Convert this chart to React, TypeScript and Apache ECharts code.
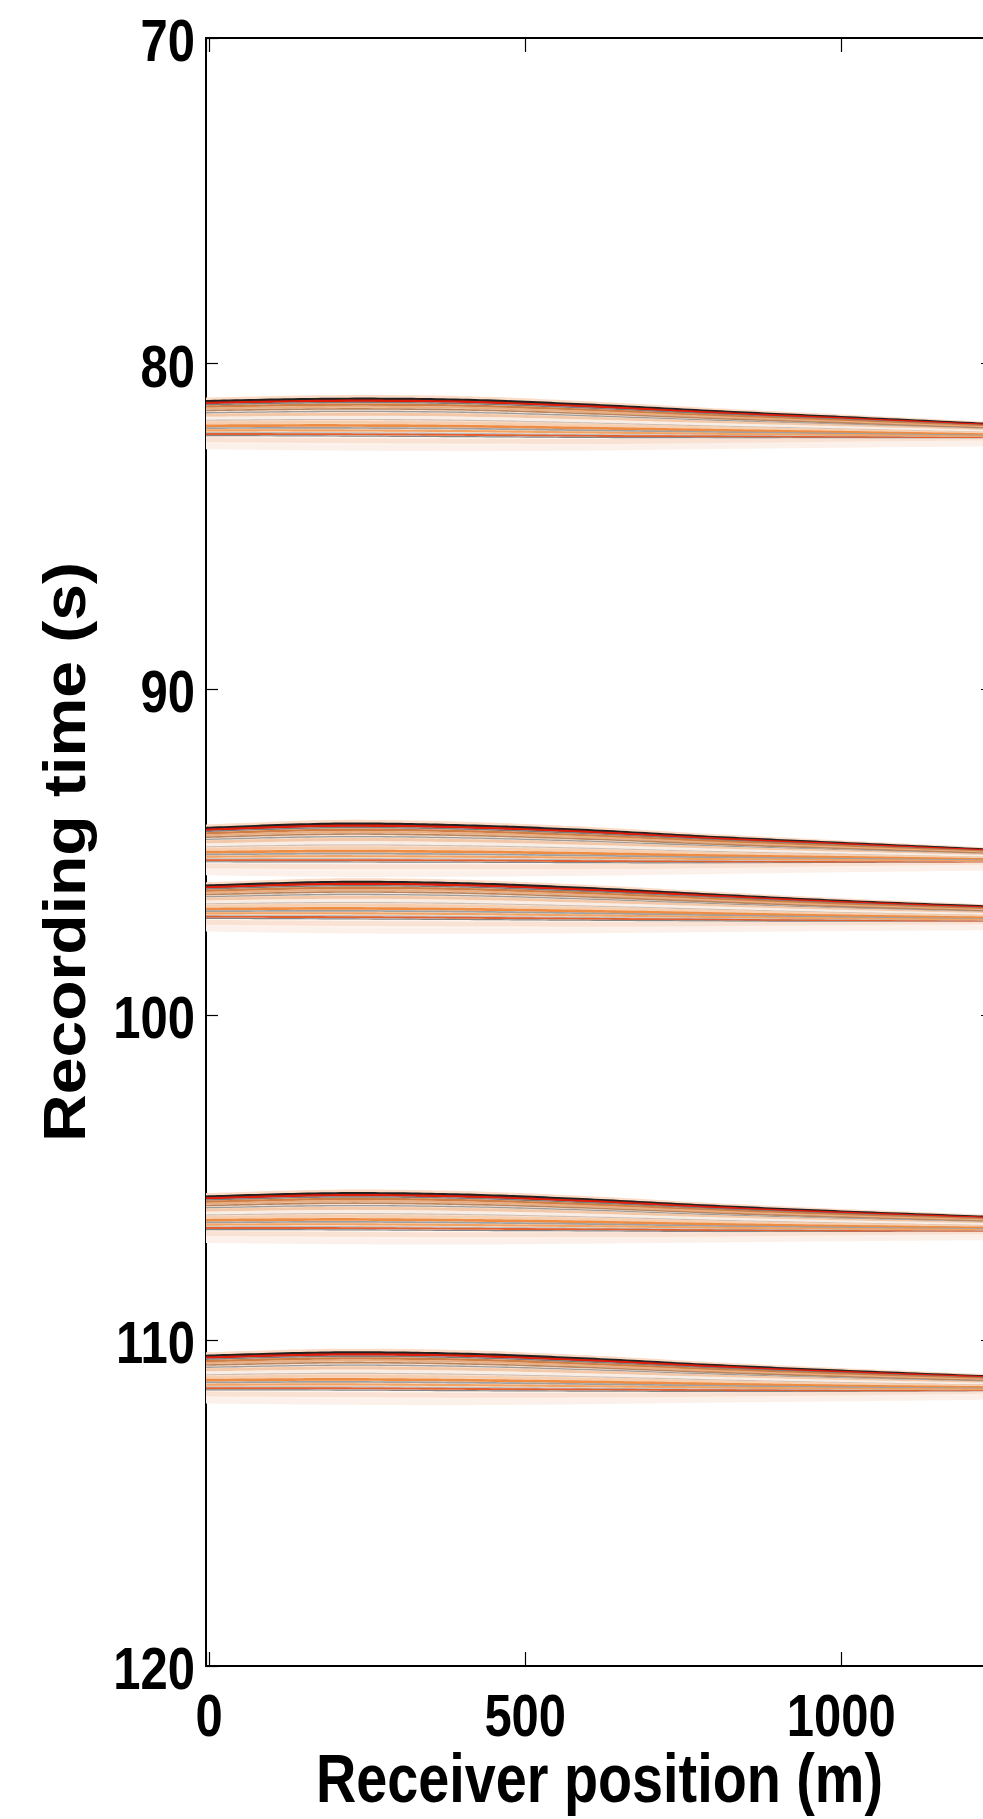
import React, { useEffect, useRef } from "react";
import * as echarts from "echarts";

// ---------- data ----------
const receiverPositions = [-5, 200, 400, 600, 800, 1000, 1240]; // m
const xTickValues = [0, 500, 1000];
const yTickValues = [70, 80, 90, 100, 110, 120];
const xRange = [-5, 1240];

// upper edge (first arrival, dark/red line) of each arrival band, seconds
const event1Top = [81.16, 81.09, 81.12, 81.27, 81.47, 81.65, 81.87];
const event2Top = [94.27, 94.14, 94.19, 94.34, 94.55, 94.73, 94.94];
const event3Top = [96.04, 95.93, 95.97, 96.12, 96.32, 96.51, 96.69];
const event4Top = [105.59, 105.49, 105.53, 105.68, 105.88, 106.05, 106.22];
const event5Top = [110.48, 110.38, 110.42, 110.57, 110.77, 110.94, 111.12];

// lower edge (last clear coda line) of each arrival band, seconds
const event1Base = [82.16, 82.17, 82.19, 82.22, 82.24, 82.26, 82.29];
const event2Base = [95.25, 95.25, 95.26, 95.28, 95.3, 95.31, 95.33];
const event3Base = [96.99, 97.0, 97.02, 97.05, 97.08, 97.11, 97.14];
const event4Base = [106.55, 106.55, 106.57, 106.59, 106.62, 106.64, 106.66];
const event5Base = [111.47, 111.47, 111.49, 111.51, 111.53, 111.55, 111.56];

const events = [
  { name: "Arrival 1", top: event1Top, base: event1Base },
  { name: "Arrival 2", top: event2Top, base: event2Base },
  { name: "Arrival 3", top: event3Top, base: event3Base },
  { name: "Arrival 4", top: event4Top, base: event4Base },
  { name: "Arrival 5", top: event5Top, base: event5Base },
];

const xTitle = "Receiver position (m)";
const yTitle = "Recording time (s)";

// ---------- styling ----------
const FONT = "'Liberation Sans', Arial, Helvetica, sans-serif";
const TICK_FS = 59;
const TICK_SX = 0.83;

// texture of a wavefield band: fraction between upper and lower edge
const stripes = [
  { f: -0.07, color: "#fcdcc6", w: 3 },
  { f: 0.0, color: "#222222", w: 2.8 },
  { f: 0.05, color: "#e01c0a", w: 2.4 },
  { f: 0.1, color: "#7d7d7d", w: 1.4 },
  { f: 0.16, color: "#cf7f46", w: 2.4 },
  { f: 0.22, color: "#e9ad80", w: 2 },
  { f: 0.28, color: "#b9855f", w: 1.6 },
  { f: 0.35, color: "#9c9c9c", w: 1.3 },
  { f: 0.43, color: "#f2c8a8", w: 3 },
  { f: 0.52, color: "#f9eee6", w: 3 },
  { f: 0.58, color: "#cfc0b6", w: 1.1 },
  { f: 0.66, color: "#f6cfb0", w: 3 },
  { f: 0.75, color: "#ee8c44", w: 2.7 },
  { f: 0.82, color: "#a0a0a0", w: 1.7 },
  { f: 0.89, color: "#f2a263", w: 2.1 },
  { f: 0.96, color: "#bdbdbd", w: 1.3 },
  { f: 1.0, color: "#e35f30", w: 1.9 },
  { f: 1.05, color: "#858585", w: 1.2 },
  { f: 1.18, color: "#f9e2d3", w: 5 },
  { f: 1.38, color: "#fcf1ea", w: 6 },
];

function densify(pts: number[][], n = 20): number[][] {
  const out: number[][] = [];
  for (let i = 0; i < pts.length - 1; i++) {
    const p0 = pts[Math.max(0, i - 1)];
    const p1 = pts[i];
    const p2 = pts[i + 1];
    const p3 = pts[Math.min(pts.length - 1, i + 2)];
    for (let k = 0; k < n; k++) {
      const t = k / n;
      const t2 = t * t;
      const t3 = t2 * t;
      const cr = (a: number, b: number, c: number, d: number) =>
        0.5 * (2 * b + (-a + c) * t + (2 * a - 5 * b + 4 * c - d) * t2 + (-a + 3 * b - 3 * c + d) * t3);
      out.push([cr(p0[0], p1[0], p2[0], p3[0]), cr(p0[1], p1[1], p2[1], p3[1])]);
    }
  }
  out.push(pts[pts.length - 1]);
  return out;
}

function makeRender(ev: { top: number[]; base: number[] }) {
  return (params: any, api: any) => {
    if (params.dataIndex !== 0) return null;
    const topPx = densify(receiverPositions.map((x, i) => api.coord([x, ev.top[i]])));
    const basePx = densify(receiverPositions.map((x, i) => api.coord([x, ev.base[i]])));
    const children: any[] = [];
    children.push({
      type: "polygon",
      shape: { points: topPx.concat(basePx.slice().reverse()) },
      style: { fill: "#f9e5d7", stroke: null },
    });
    const below = basePx.map((p, i) => [p[0], p[1] + 0.45 * (basePx[i][1] - topPx[i][1])]);
    children.push({
      type: "polygon",
      shape: { points: basePx.concat(below.slice().reverse()) },
      style: { fill: "#fdf4ee", stroke: null },
    });
    for (const s of stripes) {
      const pts = topPx.map((p, i) => [p[0], p[1] + s.f * (basePx[i][1] - p[1])]);
      children.push({
        type: "polyline",
        shape: { points: pts },
        style: { stroke: s.color, lineWidth: s.w, fill: null },
      });
    }
    return { type: "group", children };
  };
}

export default function App() {
  const ref = useRef<HTMLDivElement>(null);

  useEffect(() => {
    if (!ref.current) return;
    const chart = echarts.init(ref.current, undefined, { renderer: "svg" });

    const axisLine = { show: true, onZero: false, lineStyle: { color: "#000", width: 2 } };
    const xTick = { show: true, inside: true, length: 14, lineStyle: { color: "#000", width: 1.2 } };
    const yTick = { show: true, inside: true, length: 12, lineStyle: { color: "#000", width: 1.2 } };
    const xBase = {
      type: "value",
      min: xRange[0],
      max: xRange[1],
      minInterval: xTickValues[1] - xTickValues[0],
      maxInterval: xTickValues[1] - xTickValues[0],
      axisLine,
      axisTick: xTick,
      axisLabel: { show: false },
      splitLine: { show: false },
    };
    const yBase = {
      type: "value",
      min: yTickValues[0],
      max: yTickValues[yTickValues.length - 1],
      interval: yTickValues[1] - yTickValues[0],
      inverse: true,
      axisLine,
      axisTick: yTick,
      axisLabel: { show: false },
      splitLine: { show: false },
    };

    const option: any = {
      animation: false,
      backgroundColor: "#ffffff",
      grid: { left: 206, right: 17, top: 38, bottom: 153, containLabel: false },
      xAxis: [
        { ...xBase, position: "bottom" },
        { ...xBase, position: "top" },
      ],
      yAxis: [
        { ...yBase, position: "left" },
        { ...yBase, position: "right" },
      ],
      series: events.map((ev) => ({
        type: "custom",
        name: ev.name,
        xAxisIndex: 0,
        yAxisIndex: 0,
        clip: true,
        silent: true,
        z: 1,
        data: receiverPositions.map((x, i) => [x, ev.top[i], ev.base[i]]),
        encode: { x: 0, y: [1, 2] },
        renderItem: makeRender(ev),
      })),
    };

    chart.setOption(option);

    // tick labels and titles, placed with the chart's own axis scales
    const axisBottom = chart.convertToPixel({ yAxisIndex: 0 }, yTickValues[yTickValues.length - 1]) as number;
    const axisLeft = chart.convertToPixel({ xAxisIndex: 0 }, xRange[0]) as number;
    const axisTop = chart.convertToPixel({ yAxisIndex: 0 }, yTickValues[0]) as number;
    const labelStyle = (text: string, align: string) => ({
      text,
      fontFamily: FONT,
      fontWeight: "bold",
      fontSize: TICK_FS,
      fill: "#000",
      textAlign: align,
      textVerticalAlign: "middle",
    });
    const graphics: any[] = [];
    xTickValues.forEach((v) => {
      const px = chart.convertToPixel({ xAxisIndex: 0 }, v) as number;
      graphics.push({
        type: "text",
        x: px,
        y: axisBottom + 49,
        scaleX: TICK_SX,
        style: labelStyle(String(v), "center"),
      });
    });
    yTickValues.forEach((v) => {
      const py = chart.convertToPixel({ yAxisIndex: 0 }, v) as number;
      graphics.push({
        type: "text",
        x: axisLeft - 11,
        y: py + 2.3,
        scaleX: TICK_SX,
        style: labelStyle(String(v), "right"),
      });
    });
    graphics.push({
      type: "text",
      x: 599.5,
      y: 1778,
      scaleX: 0.82,
      style: {
        text: xTitle,
        fontFamily: FONT,
        fontWeight: "bold",
        fontSize: 68,
        fill: "#000",
        textAlign: "center",
        textVerticalAlign: "middle",
      },
    });
    graphics.push({
      type: "text",
      x: 64.5,
      y: (axisTop + axisBottom) / 2,
      rotation: Math.PI / 2,
      scaleX: 1.12,
      style: {
        text: yTitle,
        fontFamily: FONT,
        fontWeight: "bold",
        fontSize: 59,
        fill: "#000",
        textAlign: "center",
        textVerticalAlign: "middle",
      },
    });
    chart.setOption({ graphic: graphics });

    return () => chart.dispose();
  }, []);

  return (
    <div
      style={{
        position: "absolute",
        left: 0,
        top: 0,
        width: 983,
        height: 1819,
        overflow: "hidden",
        background: "#fff",
      }}
    >
      <div ref={ref} style={{ width: 1010, height: 1819 }} />
    </div>
  );
}
